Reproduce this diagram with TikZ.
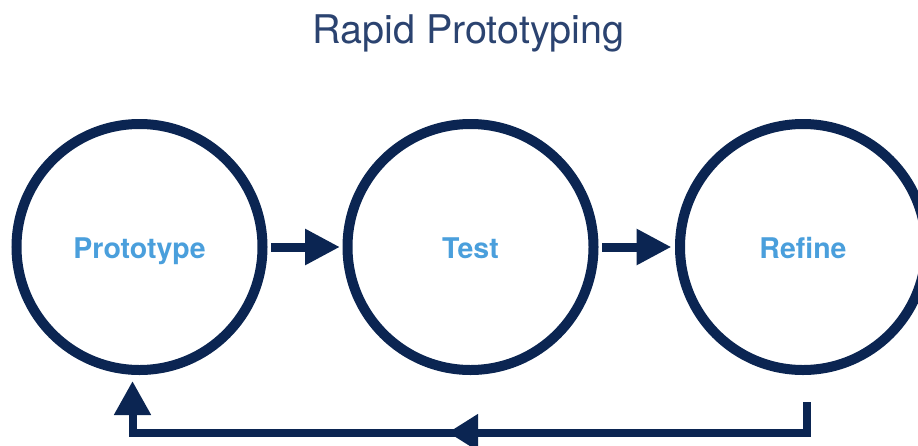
\documentclass[tikz,border=0pt]{standalone}
\usepackage{fontspec}
\setmainfont{TeX Gyre Heros}
\usetikzlibrary{arrows.meta}
\definecolor{navy}{HTML}{0B2552}
\definecolor{lblue}{HTML}{4A9FDC}
\definecolor{titlec}{HTML}{2B4370}
\tikzset{
  stage/.style={circle, draw=navy, line width=10pt, minimum size=246pt, inner sep=0pt,
    text height=22.6pt, text depth=0pt,
    text=lblue, font=\fontsize{28.5}{30}\selectfont\bfseries},
  conn/.style={draw=navy, line width=9pt},
  fb/.style={draw=navy, line width=8pt},
}
\begin{document}
\begin{tikzpicture}[x=1pt,y=-1pt]
\useasboundingbox (0,0) rectangle (918,445);
\node[text=titlec, font=\fontsize{39.5}{41}\selectfont, anchor=base] (title) at (468.5,43) {Rapid Prototyping};
\node[stage] (c1) at (139.5,247) {Prototype};
\node[stage] (c2) at (470.5,247) {Test};
\node[stage] (c3) at (803,247) {Refine};
\draw[conn, -{Triangle[length=35pt,width=34pt]}] ([xshift=3.5pt]c1.east) -- ([xshift=-2.5pt]c2.west);
\draw[conn, -{Triangle[length=35pt,width=34pt]}] ([xshift=3.5pt]c2.east) -- ([xshift=-3.5pt]c3.west);
\coordinate (fs) at ([xshift=3.5pt,yshift=-27pt]c3.south);
\coordinate (fr) at (fs |- 0,432.5);
\coordinate (fl) at (132.5,432.5);
\coordinate (fm) at (448,432.5);
\draw[fb, line cap=butt, -{Triangle[length=34pt,width=35pt]}] (fs) -- (fr) -- (fl) -- ([xshift=-7pt,yshift=-6pt]c1.south);
\draw[fb, -{Triangle[length=30pt,width=35pt]}] (fr) -- (fm);
\end{tikzpicture}
\end{document}
